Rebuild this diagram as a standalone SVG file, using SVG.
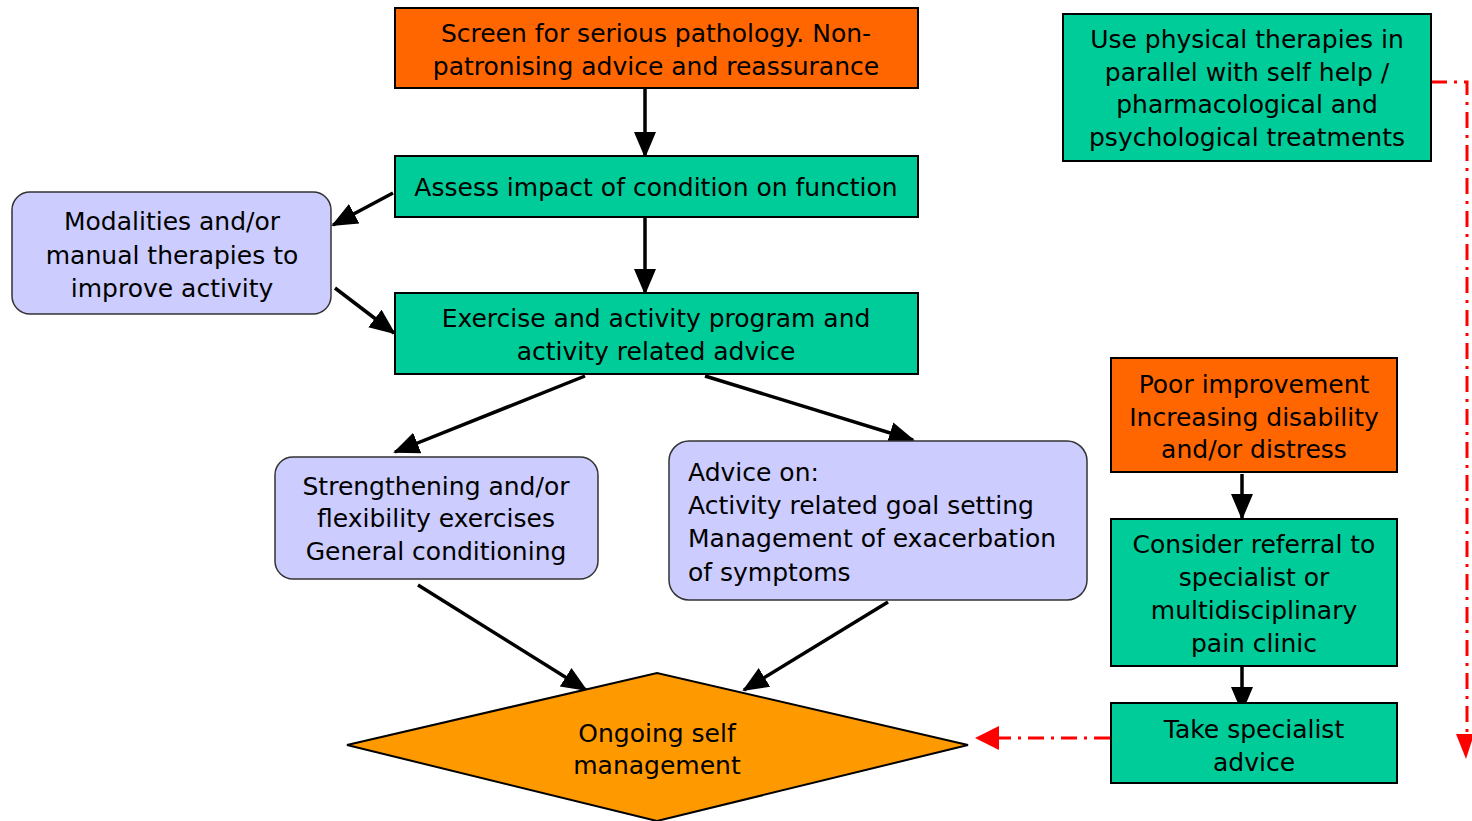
<svg xmlns="http://www.w3.org/2000/svg" width="1472" height="821" viewBox="0 0 1472 821">
<style>
.t{font-family:"DejaVu Sans","Liberation Sans",Arial,sans-serif;font-size:25px;fill:#000;text-anchor:middle}
.l{text-anchor:start}
.or{fill:#FF6600;stroke:#000;stroke-width:2}
.gr{fill:#00CC99;stroke:#000;stroke-width:2}
.lv{fill:#CCCCFF;stroke:#333;stroke-width:1.5}
.dm{fill:#FF9900;stroke:#000;stroke-width:2}
.c{stroke:#000;stroke-width:3.5;fill:none;marker-end:url(#ah)}
.r{stroke:#FF0000;stroke-width:3;fill:none;stroke-dasharray:16 7 3 7}
</style>
<defs>
<marker id="ah" markerUnits="userSpaceOnUse" markerWidth="26" markerHeight="26" viewBox="0 0 26 26" refX="24" refY="13" orient="auto">
<path d="M0,2 L26,13 L0,24 Z" fill="#000"/>
</marker>
</defs>
<g id="connectors">
<path class="c" d="M645,88 L645,156"/>
<path class="c" d="M645,217 L645,293"/>
<path class="c" d="M393,193 L333,225"/>
<path class="c" d="M335,288 L394,333"/>
<path class="c" d="M585,376 L395,452"/>
<path class="c" d="M705,376 L913,440"/>
<path class="c" d="M418,585 L586,690"/>
<path class="c" d="M888,602 L744,690"/>
<path class="c" d="M1242,474 L1242,518"/>
<path class="c" d="M1242,667 L1242,711"/>
<path class="r" d="M1110,738 L995,738"/>
<path d="M975,738 L999,726 L999,750 Z" fill="#FF0000"/>
<path class="r" d="M1431,82 L1467,82 L1467,734"/>
<path d="M1466,759 L1456,734 L1474,734 Z" fill="#FF0000"/>
</g>
<g id="screen">
<rect class="or" x="395" y="8" width="523" height="80"/>
<text class="t" x="656" y="42">Screen for serious pathology. Non-</text>
<text class="t" x="656" y="75">patronising advice and reassurance</text>
</g>
<g id="assess">
<rect class="gr" x="395" y="156" width="523" height="61"/>
<text class="t" x="656" y="196">Assess impact of condition on function</text>
</g>
<g id="exercise">
<rect class="gr" x="395" y="293" width="523" height="81"/>
<text class="t" x="656" y="327">Exercise and activity program and</text>
<text class="t" x="656" y="360">activity related advice</text>
</g>
<g id="modalities">
<rect class="lv" x="12" y="192" width="319" height="122" rx="18"/>
<text class="t" x="172" y="230">Modalities and/or</text>
<text class="t" x="172" y="264">manual therapies to</text>
<text class="t" x="172" y="297">improve activity</text>
</g>
<g id="strengthening">
<rect class="lv" x="275" y="457" width="323" height="122" rx="18"/>
<text class="t" x="436" y="495">Strengthening and/or</text>
<text class="t" x="436" y="527">flexibility exercises</text>
<text class="t" x="436" y="560">General conditioning</text>
</g>
<g id="advice">
<rect class="lv" x="669" y="441" width="418" height="159" rx="20"/>
<text class="t l" x="688" y="481">Advice on:</text>
<text class="t l" x="688" y="514">Activity related goal setting</text>
<text class="t l" x="688" y="547">Management of exacerbation</text>
<text class="t l" x="688" y="581">of symptoms</text>
</g>
<g id="ongoing">
<path class="dm" d="M347,745 L657,673 L968,745 L657,821 Z"/>
<text class="t" x="657" y="742">Ongoing self</text>
<text class="t" x="657" y="774">management</text>
</g>
<g id="physical">
<rect class="gr" x="1063" y="14" width="368" height="147"/>
<text class="t" x="1247" y="48">Use physical therapies in</text>
<text class="t" x="1247" y="81">parallel with self help /</text>
<text class="t" x="1247" y="113">pharmacological and</text>
<text class="t" x="1247" y="146">psychological treatments</text>
</g>
<g id="poor">
<rect class="or" x="1111" y="358" width="286" height="114"/>
<text class="t" x="1254" y="393">Poor improvement</text>
<text class="t" x="1254" y="426">Increasing disability</text>
<text class="t" x="1254" y="458">and/or distress</text>
</g>
<g id="referral">
<rect class="gr" x="1111" y="519" width="286" height="147"/>
<text class="t" x="1254" y="553">Consider referral to</text>
<text class="t" x="1254" y="586">specialist or</text>
<text class="t" x="1254" y="619">multidisciplinary</text>
<text class="t" x="1254" y="652">pain clinic</text>
</g>
<g id="specialist">
<rect class="gr" x="1111" y="703" width="286" height="80"/>
<text class="t" x="1254" y="738">Take specialist</text>
<text class="t" x="1254" y="771">advice</text>
</g>
</svg>
